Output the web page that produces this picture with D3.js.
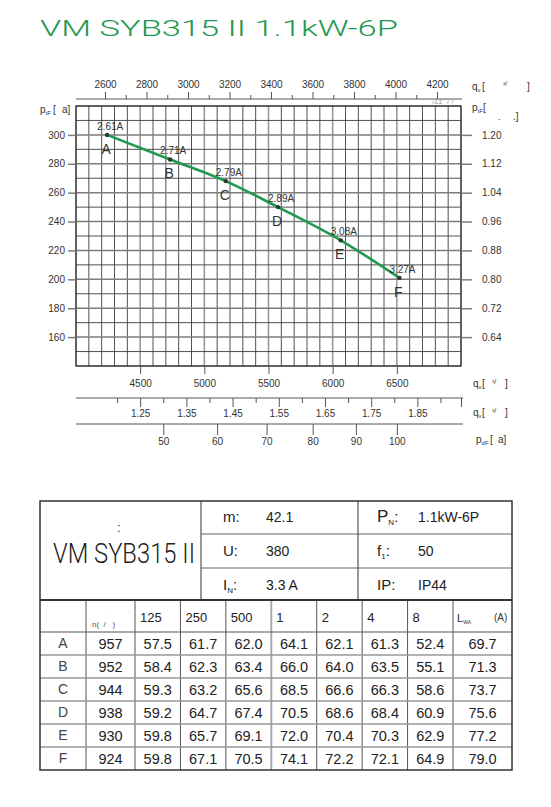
<!DOCTYPE html>
<html><head><meta charset="utf-8">
<script src="https://cdn.jsdelivr.net/npm/d3@7"></script>
<style>
html,body{margin:0;padding:0;background:#fff;}
svg{display:block;font-family:"Liberation Sans",Arial,sans-serif;}
text{white-space:pre;}
</style></head><body>
<svg id="c" width="551" height="807"></svg>
<script>
// ---------- data ----------
const title = "VM SYB315 II 1.1kW-6P";
const model = "VM SYB315 II";
const pointNames = ["A","B","C","D","E","F"];
const flowM3h = [4242,4733,5167,5574,6063,6520];
const pressurePa = [300,283,268,250,227,201];
const currents = ["2.61A","2.71A","2.79A","2.89A","3.08A","3.27A"];

const qTicks = [4500,5000,5500,6000,6500];
const cfmTicks = [2600,2800,3000,3200,3400,3600,3800,4000,4200];
const cfmMinor = [2700,2900,3100,3300,3500,3700,3900,4100];
const qsTicks = [1.25,1.35,1.45,1.55,1.65,1.75,1.85];
const qsMinor = [1.20,1.30,1.40,1.50,1.60,1.70,1.80,1.90];
const pdTicks = [50,60,70,80,90,100];
const pTicks = [160,180,200,220,240,260,280,300];
const pRightLabels = ["0.64","0.72","0.80","0.88","0.96","1.04","1.12","1.20"];

const specLeft = [["m:","42.1"],["U:","380"],["I","3.3 A","N"]];
const specRight = [["P","1.1kW-6P","N"],["f","50","1"],["IP:","IP44"]];
const bandHeaders = ["125","250","500","1","2","4","8"];
const speeds = [957,952,944,938,930,924];
const soundLevels = [
  [57.5,61.7,62.0,64.1,62.1,61.3,52.4],
  [58.4,62.3,63.4,66.0,64.0,63.5,55.1],
  [59.3,63.2,65.6,68.5,66.6,66.3,58.6],
  [59.2,64.7,67.4,70.5,68.6,68.4,60.9],
  [59.8,65.7,69.1,72.0,70.4,70.3,62.9],
  [59.8,67.1,70.5,74.1,72.2,72.1,64.9]
];
const lwa = [69.7,71.3,73.7,75.6,77.2,79.0];

// ---------- chart ----------
const svg = d3.select("#c");
svg.append("rect").attr("width",551).attr("height",807).attr("fill","#fff");

const L=76,R=461,T=106,B=366;
const x = d3.scaleLinear().domain([4000,7000]).range([L,R]);
const y = d3.scaleLinear().domain([140,320]).range([B,T]);
const xCfm = d3.scaleLinear().domain([2600,4200]).range([105,437]);
const xQs = d3.scaleLinear().domain([4000/3600,7000/3600]).range([L,R]);
const xPd = d3.scaleSqrt().domain([50,100]).range([x(4680), x(6500)]);

svg.append("text").attr("x",40).attr("y",36).attr("font-size",21.5)
  .attr("font-family","Roboto, Liberation Sans, sans-serif").attr("font-weight",300)
  .attr("fill","#22974f").attr("textLength",358).attr("lengthAdjust","spacingAndGlyphs")
  .text(title);

// grid
const grid = svg.append("g");
const vLines = d3.range(4000,7001,100);
grid.selectAll("line.v").data(vLines).join("line").attr("class","v")
  .attr("x1",d=>x(d)).attr("x2",d=>x(d)).attr("y1",T).attr("y2",B)
  .attr("stroke",d=>(d%500===0 && d>4000 && d<7000)?"#9a9a9a":"#3c3c3c")
  .attr("stroke-width",d=>(d%500===0 && d>4000 && d<7000)?1.6:0.9);
const hLines = d3.range(140,321,10);
grid.selectAll("line.h").data(hLines).join("line").attr("class","h")
  .attr("x1",L).attr("x2",R).attr("y1",d=>y(d)).attr("y2",d=>y(d))
  .attr("stroke",d=>pTicks.includes(d)?"#7c7c7c":"#3c3c3c")
  .attr("stroke-width",d=>pTicks.includes(d)?1.5:0.9);
grid.append("rect").attr("x",L).attr("y",T).attr("width",R-L).attr("height",B-T)
  .attr("fill","none").attr("stroke","#333").attr("stroke-width",1.2);

function styleAxis(g, col){
  g.select(".domain").remove();
  g.selectAll(".tick line").attr("stroke",col||"#555");
  g.selectAll(".tick text").attr("fill","#333").attr("font-size",10)
    .attr("font-family","Liberation Sans, Arial, sans-serif");
}
const fInt = d3.format("d");

// left/right
const gl = svg.append("g").attr("transform",`translate(${L},0)`)
  .call(d3.axisLeft(y).tickValues(pTicks).tickSize(8).tickPadding(3).tickFormat(fInt));
styleAxis(gl,"#7c7c7c"); gl.selectAll(".tick line").attr("stroke-width",1.5);
const gr = svg.append("g").attr("transform",`translate(${R},0)`)
  .call(d3.axisRight(y).tickValues(pTicks).tickSize(11).tickPadding(10)
    .tickFormat((d,i)=>pRightLabels[i]));
styleAxis(gr,"#7c7c7c"); gr.selectAll(".tick line").attr("stroke-width",1.5);

// bottom m3/h
const gb = svg.append("g").attr("transform",`translate(0,${B})`)
  .call(d3.axisBottom(x).tickValues(qTicks).tickSize(8).tickPadding(6).tickFormat(fInt));
styleAxis(gb,"#555");

// top CFM
const topY = 99;
svg.append("line").attr("x1",L).attr("x2",R+1).attr("y1",topY).attr("y2",topY).attr("stroke","#555");
const gt = svg.append("g").attr("transform",`translate(0,${topY})`)
  .call(d3.axisTop(xCfm).tickValues(cfmTicks).tickSize(7).tickPadding(4).tickFormat(fInt));
styleAxis(gt);
const gt2 = svg.append("g").attr("transform",`translate(0,${topY})`)
  .call(d3.axisTop(xCfm).tickValues(cfmMinor).tickSize(4).tickFormat(""));
styleAxis(gt2);

// m3/s
const qsY = 398;
svg.append("line").attr("x1",L).attr("x2",R+2).attr("y1",qsY).attr("y2",qsY).attr("stroke","#555");
const gq = svg.append("g").attr("transform",`translate(0,${qsY})`)
  .call(d3.axisBottom(xQs).tickValues(qsTicks).tickSize(9).tickPadding(3).tickFormat(d3.format(".2f")));
styleAxis(gq);
const gq2 = svg.append("g").attr("transform",`translate(0,${qsY})`)
  .call(d3.axisBottom(xQs).tickValues(qsMinor).tickSize(5).tickFormat(""));
styleAxis(gq2);
const gq3 = svg.append("g").attr("transform",`translate(0,${qsY})`)
  .call(d3.axisBottom(xQs).tickValues([7000/3600]).tickSize(9).tickFormat(""));
styleAxis(gq3);

// dynamic pressure
const pdY = 424;
svg.append("line").attr("x1",L).attr("x2",R+2).attr("y1",pdY).attr("y2",pdY).attr("stroke","#555");
const gp = svg.append("g").attr("transform",`translate(0,${pdY})`)
  .call(d3.axisBottom(xPd).tickValues(pdTicks).tickSize(11).tickPadding(3).tickFormat(fInt));
styleAxis(gp);

// axis unit labels
function txt(xp, yp, s, fs, col){
  return svg.append("text").attr("x",xp).attr("y",yp).attr("font-size",fs||10).attr("fill",col||"#333").text(s);
}
function unitLabel(xp, yp, main, sub){
  const t = svg.append("text").attr("x",xp).attr("y",yp).attr("font-size",10).attr("fill","#333");
  t.append("tspan").text(main);
  if(sub) t.append("tspan").attr("font-size",6).attr("dy",2).text(sub);
  return t;
}
unitLabel(40,113,"p","tF"); txt(53,113,"["); txt(62,113,"a]");
unitLabel(472,90,"q","v"); txt(482,90,"["); txt(503,86,"³/",7); txt(527,90,"]");
unitLabel(472,111,"p","tF"); txt(483,111,"[");
txt(498,120,".",9); txt(513,120,".]");
txt(432,104,"≈1.2    /  ³",5,"#777");
unitLabel(473,387,"q","v"); txt(482,387,"["); txt(492,384,"³/",7); txt(505,387,"]");
unitLabel(473,416,"q","v"); txt(482,416,"["); txt(492,413,"³/",7); txt(505,416,"]");
unitLabel(476,443,"p","dF"); txt(490,443,"["); txt(498,443,"a]");

// curve
const pts = pointNames.map((n,i)=>({n, q:flowM3h[i], p:pressurePa[i], c:currents[i]}));
svg.append("path").datum(pts)
  .attr("d",d3.line().x(d=>x(d.q)).y(d=>y(d.p)).curve(d3.curveMonotoneX))
  .attr("fill","none").attr("stroke","#1f9a4e").attr("stroke-width",2.6);
svg.selectAll("circle.pt").data(pts).join("circle").attr("class","pt")
  .attr("cx",d=>x(d.q)).attr("cy",d=>y(d.p)).attr("r",2.2).attr("fill","#2a3a30");
svg.selectAll("text.cur").data(pts).join("text").attr("class","cur")
  .attr("x",d=>x(d.q)-10).attr("y",d=>y(d.p)-5).attr("font-size",10).attr("fill","#333")
  .text(d=>d.c);
svg.selectAll("text.nm").data(pts).join("text").attr("class","nm")
  .attr("x",d=>x(d.q)-1).attr("y",d=>y(d.p)+19).attr("font-size",14).attr("fill","#333")
  .attr("text-anchor","middle").text(d=>d.n);

// ---------- table ----------
const tb = svg.append("g");
const TL=40, TR=512, TT=501, TM=600, TH=632, TB=770;
const c1=201, c2=358;
[534,568].forEach(yy=>tb.append("line").attr("x1",c1).attr("x2",TR).attr("y1",yy).attr("y2",yy)
  .attr("stroke","#999").attr("stroke-width",1.5));
[c1,c2].forEach(xx=>tb.append("line").attr("x1",xx).attr("x2",xx).attr("y1",TT).attr("y2",TM)
  .attr("stroke","#555").attr("stroke-width",1.2));

const band = d3.scaleBand().domain(bandHeaders).range([135,453]);
const lastEdge = 453;
const rowScale = d3.scaleBand().domain(pointNames).range([TH,TB]);

const vEdges = [86,135].concat(bandHeaders.slice(1).map(h=>band(h))).concat([lastEdge]);
tb.selectAll("line.cv").data(vEdges).join("line").attr("class","cv")
  .attr("x1",d=>d).attr("x2",d=>d).attr("y1",TM).attr("y2",TB)
  .attr("stroke",(d,i)=>i===4?"#aaa":"#555").attr("stroke-width",(d,i)=>i===4?2:1);
tb.selectAll("line.rh").data(pointNames.slice(1)).join("line").attr("class","rh")
  .attr("x1",TL).attr("x2",TR).attr("y1",d=>rowScale(d)).attr("y2",d=>rowScale(d))
  .attr("stroke","#999").attr("stroke-width",1.3);
tb.append("line").attr("x1",TL).attr("x2",TR).attr("y1",TH).attr("y2",TH).attr("stroke","#555").attr("stroke-width",1.2);
tb.append("line").attr("x1",TL).attr("x2",TR).attr("y1",TM).attr("y2",TM).attr("stroke","#333").attr("stroke-width",2);
tb.append("rect").attr("x",TL).attr("y",TT).attr("width",TR-TL).attr("height",TB-TT)
  .attr("fill","none").attr("stroke","#333").attr("stroke-width",1.5);

// upper text
tb.append("text").attr("x",117).attr("y",532).attr("font-size",13).attr("fill","#333").text(":");
tb.append("text").attr("x",53).attr("y",563).attr("font-size",28).attr("fill","#222")
  .attr("font-family","Roboto, Liberation Sans, sans-serif").attr("font-weight",300)
  .attr("textLength",142).attr("lengthAdjust","spacingAndGlyphs").text(model);
const rowBase = [522,556,590];
specLeft.forEach((s,i)=>{
  const t = tb.append("text").attr("x",223).attr("y",rowBase[i]).attr("font-size",15).attr("fill","#222");
  if(s.length===3){ t.append("tspan").text(s[0]); t.append("tspan").attr("font-size",8).attr("dy",3).text(s[2]); t.append("tspan").attr("dy",-3).text(":"); }
  else t.text(s[0]);
  tb.append("text").attr("x",266).attr("y",rowBase[i]).attr("font-size",14).attr("fill","#222").text(s[1]);
});
specRight.forEach((s,i)=>{
  const t = tb.append("text").attr("x",377).attr("y",rowBase[i]).attr("font-size",15).attr("fill","#222");
  if(s.length===3){ t.append("tspan").attr("font-size",i===0?17:15).text(s[0]); t.append("tspan").attr("font-size",8).attr("dy",3).text(s[2]); t.append("tspan").attr("dy",-3).text(":"); }
  else t.text(s[0]);
  tb.append("text").attr("x",418).attr("y",rowBase[i]).attr("font-size",14).attr("fill","#222").text(s[1]);
});

// lower header
tb.append("text").attr("x",92).attr("y",627).attr("font-size",8).attr("fill","#555").text("n(  /   )");
tb.append("text").attr("x",106).attr("y",614).attr("font-size",6).attr("fill","#777").text("·");
tb.append("text").attr("x",128).attr("y",614).attr("font-size",6).attr("fill","#777").text("·");
tb.selectAll("text.bh").data(bandHeaders).join("text").attr("class","bh")
  .attr("x",d=>band(d)+5).attr("y",622).attr("font-size",13).attr("fill","#222").text(d=>d);
const lw = tb.append("text").attr("x",457).attr("y",622).attr("font-size",11).attr("fill","#333");
lw.append("tspan").text("L"); lw.append("tspan").attr("font-size",5).attr("dy",2).text("WA");
tb.append("text").attr("x",494).attr("y",621).attr("font-size",10).attr("fill","#333").text("(A)");

// rows
pointNames.forEach((n,i)=>{
  const cy = rowScale(n)+rowScale.bandwidth()/2;
  tb.append("text").attr("x",63).attr("y",cy+4).attr("font-size",14).attr("fill","#444")
    .attr("text-anchor","middle").text(n);
  tb.append("text").attr("x",110.5).attr("y",cy+5.5).attr("font-size",14.5).attr("fill","#222")
    .attr("text-anchor","middle").text(speeds[i]);
  soundLevels[i].forEach((v,j)=>{
    tb.append("text").attr("x",band(bandHeaders[j])+band.bandwidth()/2).attr("y",cy+5.5)
      .attr("font-size",14.5).attr("fill","#222").attr("text-anchor","middle").text(v.toFixed(1));
  });
  tb.append("text").attr("x",(lastEdge+TR)/2).attr("y",cy+5.5).attr("font-size",14.5).attr("fill","#222")
    .attr("text-anchor","middle").text(lwa[i].toFixed(1));
});
</script></body></html>
